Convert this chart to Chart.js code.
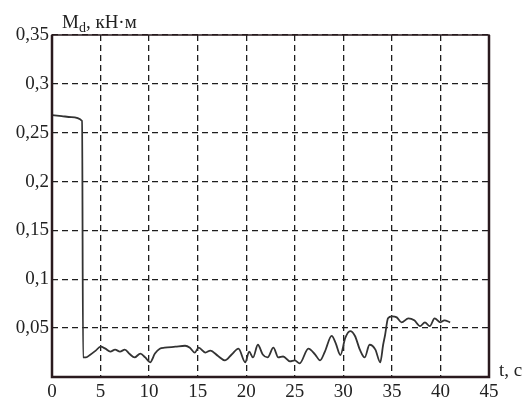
<!DOCTYPE html>
<html>
<head>
<meta charset="utf-8">
<script src="https://cdn.jsdelivr.net/npm/chart.js@4"></script>
<style>
  html, body { margin: 0; padding: 0; background: #fff; }
  #wrap { width: 527px; height: 400px; position: relative; }
</style>
</head>
<body>
<div id="wrap"><canvas id="torque-chart"></canvas></div>
<script>
// time, s
const timeS = [0, 1, 2, 3.1, 3.2, 3.5, 3.9, 4.5, 5.0, 5.5, 6.0, 6.5, 7.0, 7.5, 8.0, 8.5, 9.1, 9.6, 10.1, 10.6,
  11.1, 11.6, 12.7, 13.7, 14.2, 14.7, 15.1, 15.8, 16.3, 17.1, 17.8, 18.5, 19.2, 19.9, 20.3, 20.7, 21.2, 21.7,
  22.2, 22.8, 23.3, 23.8, 24.5, 25.0, 25.5, 26.4, 27.1, 27.6, 28.1, 28.8, 29.2, 29.7, 30.2, 30.7, 31.2, 31.7,
  32.2, 32.7, 33.3, 33.8, 34.1, 34.3, 34.6, 35.0, 35.5, 36.0, 36.7, 37.3, 37.9, 38.4, 38.9, 39.4, 40.0, 40.4, 41.0];

// M_d, kN*m
const torque = [0.268, 0.267, 0.266, 0.262, 0.020, 0.020, 0.0225, 0.027, 0.031, 0.029, 0.026, 0.028, 0.026, 0.028, 0.0235, 0.020, 0.024, 0.020, 0.015, 0.024,
  0.029, 0.030, 0.031, 0.032, 0.030, 0.025, 0.030, 0.025, 0.027, 0.0215, 0.017, 0.023, 0.029, 0.015, 0.026, 0.020, 0.033, 0.023,
  0.020, 0.030, 0.020, 0.021, 0.016, 0.017, 0.014, 0.029, 0.023, 0.017, 0.026, 0.042, 0.035, 0.0225, 0.040, 0.047, 0.042, 0.028,
  0.020, 0.033, 0.028, 0.015, 0.033, 0.043, 0.060, 0.062, 0.061, 0.056, 0.060, 0.058, 0.052, 0.056, 0.052, 0.060, 0.056, 0.058, 0.056];

const xTicks = [0, 5, 10, 15, 20, 25, 30, 35, 40, 45];
const yTicks = [0, 0.05, 0.1, 0.15, 0.2, 0.25, 0.3, 0.35];

const points = timeS.map((t, i) => ({ x: t, y: torque[i] }));

const serif = '"Liberation Serif", "DejaVu Serif", serif';

// frame around the plot + axis captions
const framePlugin = {
  id: 'frame',
  afterDraw(chart) {
    const { ctx, chartArea: a } = chart;
    ctx.save();
    ctx.strokeStyle = '#2a1a1e';
    ctx.lineWidth = 1.5;
    ctx.strokeRect(a.left, a.top, a.right - a.left, a.bottom - a.top);
    ctx.lineWidth = 2.5;
    ctx.beginPath();
    ctx.moveTo(a.left, a.top);
    ctx.lineTo(a.left, a.bottom);
    ctx.lineTo(a.right, a.bottom);
    ctx.lineTo(a.right, a.top);
    ctx.stroke();

    ctx.fillStyle = '#222';
    ctx.textBaseline = 'alphabetic';
    ctx.textAlign = 'left';
    ctx.font = '19px ' + serif;
    let x = 62;
    ctx.fillText('M', x, 28);
    x += ctx.measureText('M').width;
    ctx.font = '14px ' + serif;
    ctx.fillText('d', x, 32);
    x += ctx.measureText('d').width;
    ctx.font = '19px ' + serif;
    ctx.fillText(', кН·м', x, 28);

    ctx.fillText('t, c', a.right + 10, a.bottom - 1);
    ctx.restore();
  }
};

new Chart(document.getElementById('torque-chart'), {
  type: 'line',
  data: {
    datasets: [{
      data: points,
      borderColor: '#333',
      borderWidth: 1.8,
      pointRadius: 0,
      cubicInterpolationMode: 'monotone',
      fill: false
    }]
  },
  options: {
    responsive: true,
    maintainAspectRatio: false,
    animation: false,
    layout: { padding: { top: 35, right: 38, left: 0, bottom: 0 } },
    plugins: { legend: { display: false }, tooltip: { enabled: false } },
    scales: {
      x: {
        type: 'linear',
        min: 0,
        max: 45,
        afterBuildTicks: (scale) => { scale.ticks = xTicks.map(v => ({ value: v })); },
        afterFit: (scale) => { scale.height = 23; },
        border: { display: false, dash: [6, 4] },
        grid: {
          color: '#1e1e1e',
          lineWidth: 1.3,
          drawTicks: false
        },
        ticks: {
          color: '#222',
          padding: 4,
          maxRotation: 0,
          font: { family: serif, size: 19 },
          callback: (v) => String(v)
        }
      },
      y: {
        min: 0,
        max: 0.35,
        afterBuildTicks: (scale) => { scale.ticks = yTicks.map(v => ({ value: v })); },
        afterFit: (scale) => { scale.width = 52; },
        border: { display: false, dash: [6, 4] },
        grid: {
          color: '#1e1e1e',
          lineWidth: 1.3,
          drawTicks: false
        },
        ticks: {
          color: '#222',
          padding: 3,
          font: { family: serif, size: 19 },
          callback: (v) => v === 0 ? '' : String(+v.toFixed(2)).replace('.', ',')
        }
      }
    }
  },
  plugins: [framePlugin]
});
</script>
</body>
</html>
